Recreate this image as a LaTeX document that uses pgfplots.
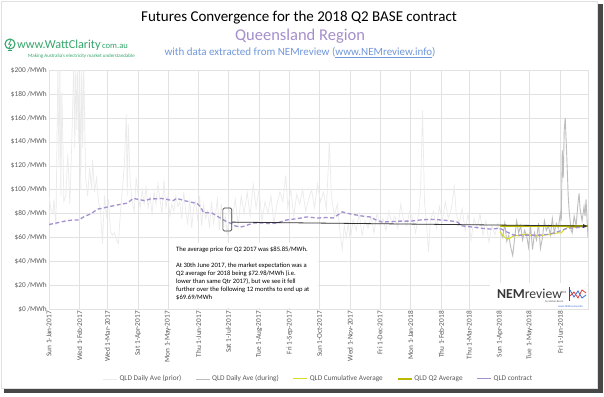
\documentclass[border=0pt]{standalone}
\usepackage{fontspec}
\setmainfont{Carlito}
\usepackage{pgfplots}
\pgfplotsset{compat=1.18}
\usepackage{pgfplotstable}
\usetikzlibrary{arrows.meta}

\definecolor{prior}{HTML}{EBEBEB}
\definecolor{during}{HTML}{BDBDBD}
\definecolor{cumavg}{HTML}{DCDC1E}
\definecolor{qavg}{HTML}{B9B900}
\definecolor{contractc}{HTML}{A390CF}
\definecolor{gridc}{HTML}{E2E2E2}
\definecolor{ticktext}{HTML}{595959}
\definecolor{qldpurple}{HTML}{A48FCB}
\definecolor{subblue}{HTML}{7097DA}
\definecolor{wcgreen}{HTML}{35A56C}
\definecolor{nemblue}{HTML}{3E6FD8}
\definecolor{nemred}{HTML}{E0403A}

\pgfplotstableread{
d v
0 95
2 84
4 80
5 92
7 70
9 205
10 120
11 205
12 95
13 182
14 140
15 90
17 95
19 130
21 88
23 140
25 205
26 135
27 205
28 150
29 205
30 140
31 205
32 100
33 205
34 135
35 205
37 110
39 95
41 118
43 100
44 125
46 98
48 110
50 90
52 82
54 55
56 95
58 78
60 92
62 65
64 62
66 64
68 58
70 55
72 80
74 100
76 120
78 163
79 95
80 155
82 105
84 90
86 82
88 110
90 95
92 85
94 100
96 88
98 102
100 85
102 95
104 80
106 98
108 88
110 105
112 92
114 80
116 108
118 85
120 95
122 78
124 88
126 82
128 95
130 86
132 90
134 76
136 98
138 82
140 72
142 92
144 68
146 85
148 90
150 76
152 95
154 70
156 88
158 76
160 82
162 68
164 90
166 72
168 80
170 92
172 66
174 88
176 70
178 78
180 62
182 84
185 76
188 92
191 70
194 95
197 80
200 98
203 78
206 105
209 85
212 100
215 74
218 90
221 80
224 95
227 72
230 88
233 98
236 90
239 112
241 85
244 100
247 78
250 96
253 88
256 100
259 82
262 92
265 100
268 85
271 105
274 90
277 98
280 84
283 140
285 95
288 78
291 88
294 62
296 50
298 70
300 60
302 72
304 58
307 75
310 66
313 80
316 62
319 74
322 68
325 78
328 64
331 80
334 70
337 76
340 66
343 82
346 72
349 78
352 68
355 88
358 74
361 70
364 82
367 76
370 64
373 80
375 98
377 166
379 90
381 72
383 48
385 75
388 82
391 68
394 86
397 74
400 90
403 76
406 84
409 103
411 80
414 72
417 84
420 66
423 80
426 58
429 76
432 68
435 80
438 62
441 74
444 56
447 70
450 62
453 72
454 68
}\priortab

\pgfplotstableread{
d v
455 68
456 64
458 60
460 72
462 57
464 62
466 52
468 45
470 60
472 74
474 64
476 70
478 58
480 66
482 62
484 52
486 70
488 50
490 64
492 58
494 72
496 51
498 60
500 74
502 66
504 70
506 62
508 76
510 64
512 72
514 68
516 80
517 74
518 133
519 110
520 150
521 160
522 140
523 118
524 95
525 82
526 74
527 66
528 64
530 78
532 70
534 90
535 97
536 84
538 74
540 86
541 78
542 92
543 76
544 60
}\duringtab

\pgfplotstableread{
d v
455 65
458 62
461 59.5
464 59
467 60.5
470 62
474 61.5
478 62.5
482 63
486 62
490 62
494 61.5
498 62
502 62.5
506 63
510 63.5
514 64
517 64
519 66
521 67.5
524 68.5
528 68.5
532 68.5
536 69
540 69.3
544 69.69
}\cumtab

\pgfplotstableread{
d v
0 71
8 72.3
16 73.8
24 74.8
30 74.8
36 77.8
42 79.8
49 83.8
55 84.8
60 85.8
66 86.8
72 87.8
79 88.8
85 92.8
91 91.8
97 90.8
102 92.3
107 92.4
113 92.8
120 91.8
125 90.8
129 92.8
133 91.8
137 90.8
143 89.8
150 88.2
153 85.8
156 80.8
160 80.8
164 80.8
171 77.3
176 74.8
180 73.1
184 71.8
188 69.8
193 68.8
198 69.8
206 72.2
215 72.3
222 71.8
230 72.2
240 74.8
250 75.8
260 77.3
271 76.4
280 76.8
287 76.4
296 81.5
304 79.8
311 78.8
318 77.8
324 77.3
330 74.8
336 73.1
345 73.3
354 73.8
365 73.8
375 74.8
385 75.3
395 74.8
403 74.3
412 73.1
417 69.8
428 68.8
437 67.8
445 67.2
455 67.8
462 64.8
469 62.1
483 62.1
496 62.1
505 62.8
513 64.8
523 67.8
531 68.3
539 68.8
544 69.7
}\contracttab

\newcommand{\tf}{\fontsize{7.3bp}{8.5bp}\selectfont}

\begin{document}
\begin{tikzpicture}
\begin{scope}[x=1bp,y=1bp]
% page frame with shadow
\fill[black!72] (4,3) rectangle (603,392);
\fill[white] (1,8) rectangle (597,395);
\draw[black!12, line width=0.5bp] (1,8) rectangle (597,395);

% titles
\node[font=\fontsize{15bp}{18bp}\selectfont, text=black] at (299,378) {Futures Convergence for the 2018 Q2 BASE contract};
\node[font=\fontsize{16.5bp}{19bp}\selectfont, text=qldpurple] at (300,360) {Queensland Region};
\node[font=\fontsize{11bp}{13bp}\selectfont, text=subblue] at (300,343) {with data extracted from NEMreview (\underline{www.NEMreview.info})};

% WattClarity logo
\draw[wcgreen, line width=1.1bp] (10,352) circle (5);
\draw[wcgreen, line width=0.8bp] (11,356) -- (8.7,351.8) -- (11.3,351.8) -- (9,348);
\draw[wcgreen, line width=0.8bp] (8.2,345.5) -- (11.8,345.5);
\node[anchor=base west, inner sep=0, font=\fontsize{12.2bp}{14bp}\selectfont, text=wcgreen] at (17,347.5) {www.WattClarity\raisebox{4bp}{\fontsize{3bp}{3bp}\selectfont ®}{\fontsize{8.6bp}{9bp}\selectfont com.au}};
\node[anchor=base west, inner sep=0, font=\fontsize{5bp}{6bp}\selectfont, text=wcgreen] at (28,338.5) {Making Australia's electricity market understandable};
\end{scope}

\begin{axis}[
  at={(49bp,86.5bp)}, anchor=south west,
  scale only axis, width=539bp, height=239.5bp,
  xmin=0, xmax=544, ymin=0, ymax=200,
  axis line style={draw=gridc},
  grid=major, major grid style={draw=gridc, line width=0.6bp},
  major tick length=0pt,
  ytick={0,20,...,200},
  yticklabels={\$0 /MWh,\$20 /MWh,\$40 /MWh,\$60 /MWh,\$80 /MWh,\$100 /MWh,\$120 /MWh,\$140 /MWh,\$160 /MWh,\$180 /MWh,\$200 /MWh},
  xtick={0,31,59,90,120,151,181,212,243,273,304,334,365,396,424,455,485,516},
  xticklabels={Sun 1-Jan-2017,Wed 1-Feb-2017,Wed 1-Mar-2017,Sat 1-Apr-2017,Mon 1-May-2017,Thu 1-Jun-2017,Sat 1-Jul-2017,Tue 1-Aug-2017,Fri 1-Sep-2017,Sun 1-Oct-2017,Wed 1-Nov-2017,Fri 1-Dec-2017,Mon 1-Jan-2018,Thu 1-Feb-2018,Thu 1-Mar-2018,Sun 1-Apr-2018,Tue 1-May-2018,Fri 1-Jun-2018},
  tick label style={font=\tf, text=ticktext},
  xticklabel style={rotate=90, anchor=east, inner sep=1.5bp},
  yticklabel style={anchor=east, inner sep=2bp},
  clip mode=individual,
  legend columns=5,
  legend style={at={(0.5,-0.29)}, anchor=center, draw=none, fill=none, font=\tf, text=ticktext,
    /tikz/every even column/.append style={column sep=12bp}},
  legend image code/.code={\draw[#1] (0bp,0bp) -- (14bp,0bp);},
]
\addplot[draw=prior, line width=0.7bp, forget plot] table[x=d,y=v] {\priortab};
\addplot[draw=during, line width=0.9bp, forget plot] table[x=d,y=v] {\duringtab};
\addplot[draw=cumavg, line width=1bp, forget plot] table[x=d,y=v] {\cumtab};
\addplot[draw=qavg, line width=1.7bp, forget plot] coordinates {(455,69.69) (544,69.69)};
\addplot[draw=contractc, line width=1.3bp, dash pattern=on 4bp off 2.5bp, forget plot] table[x=d,y=v] {\contracttab};

\addlegendimage{draw=prior, line width=0.8bp}
\addlegendentry{QLD Daily Ave (prior)}
\addlegendimage{draw=during, line width=0.8bp}
\addlegendentry{QLD Daily Ave (during)}
\addlegendimage{draw=cumavg, line width=1bp}
\addlegendentry{QLD Cumulative Average}
\addlegendimage{draw=qavg, line width=1.6bp}
\addlegendentry{QLD Q2 Average}
\addlegendimage{draw=contractc, line width=1bp}
\addlegendentry{QLD contract}

\draw[black!75, line width=0.7bp, rounded corners=1.5bp] (axis cs:175.5,65.6) rectangle (axis cs:184.5,84.8);
\draw[-{Latex[length=5bp,width=4bp]}, black!80, line width=0.8bp] (axis cs:184.5,72.98) -- (axis cs:544,69.69);
\end{axis}

\begin{scope}[x=1bp,y=1bp]
% annotation box
\fill[white] (170,88) rectangle (318,153);
\node[anchor=north west, inner sep=0, align=left, font=\fontsize{6.6bp}{8bp}\selectfont] at (176,149.5)
 {The average price for Q2 2017 was \$85.85/MWh.\\[8bp]
  At 30th June 2017, the market expectation was a\\
  Q2 average for 2018 being \$72.98/MWh (i.e.\\
  lower than same Qtr 2017), but we see it fell\\
  further over the following 12 months to end up at\\
  \$69.69/MWh};

% NEMreview logo
\fill[white] (490,87.5) rectangle (587,113);
\node[anchor=base west, inner sep=0, text=black!78, font=\fontsize{13.7bp}{15bp}\selectfont] at (497,98) {\textbf{NEM}review\raisebox{5bp}{\fontsize{3bp}{3bp}\selectfont TM}};
\node[anchor=base west, inner sep=0, text=black!65, font=\fontsize{2.8bp}{3bp}\selectfont] at (545,94) {by Global-Roam};
\node[anchor=base west, inner sep=0, text=nemblue, font=\fontsize{2.8bp}{3bp}\selectfont] at (558,89) {www.NEMreview.info};
\draw[black!70, line width=0.6bp] (569,95) -- (569,109);
\draw[nemblue, line width=0.8bp] (570,106) -- (574,99) -- (578,105) -- (582,98) -- (586,101);
\draw[nemred, line width=0.8bp] (570,100) -- (574,104) -- (578,98) -- (582,106) -- (586,103);

\pgfresetboundingbox
\path (0,0) rectangle (604,396);
\end{scope}
\end{tikzpicture}
\end{document}
